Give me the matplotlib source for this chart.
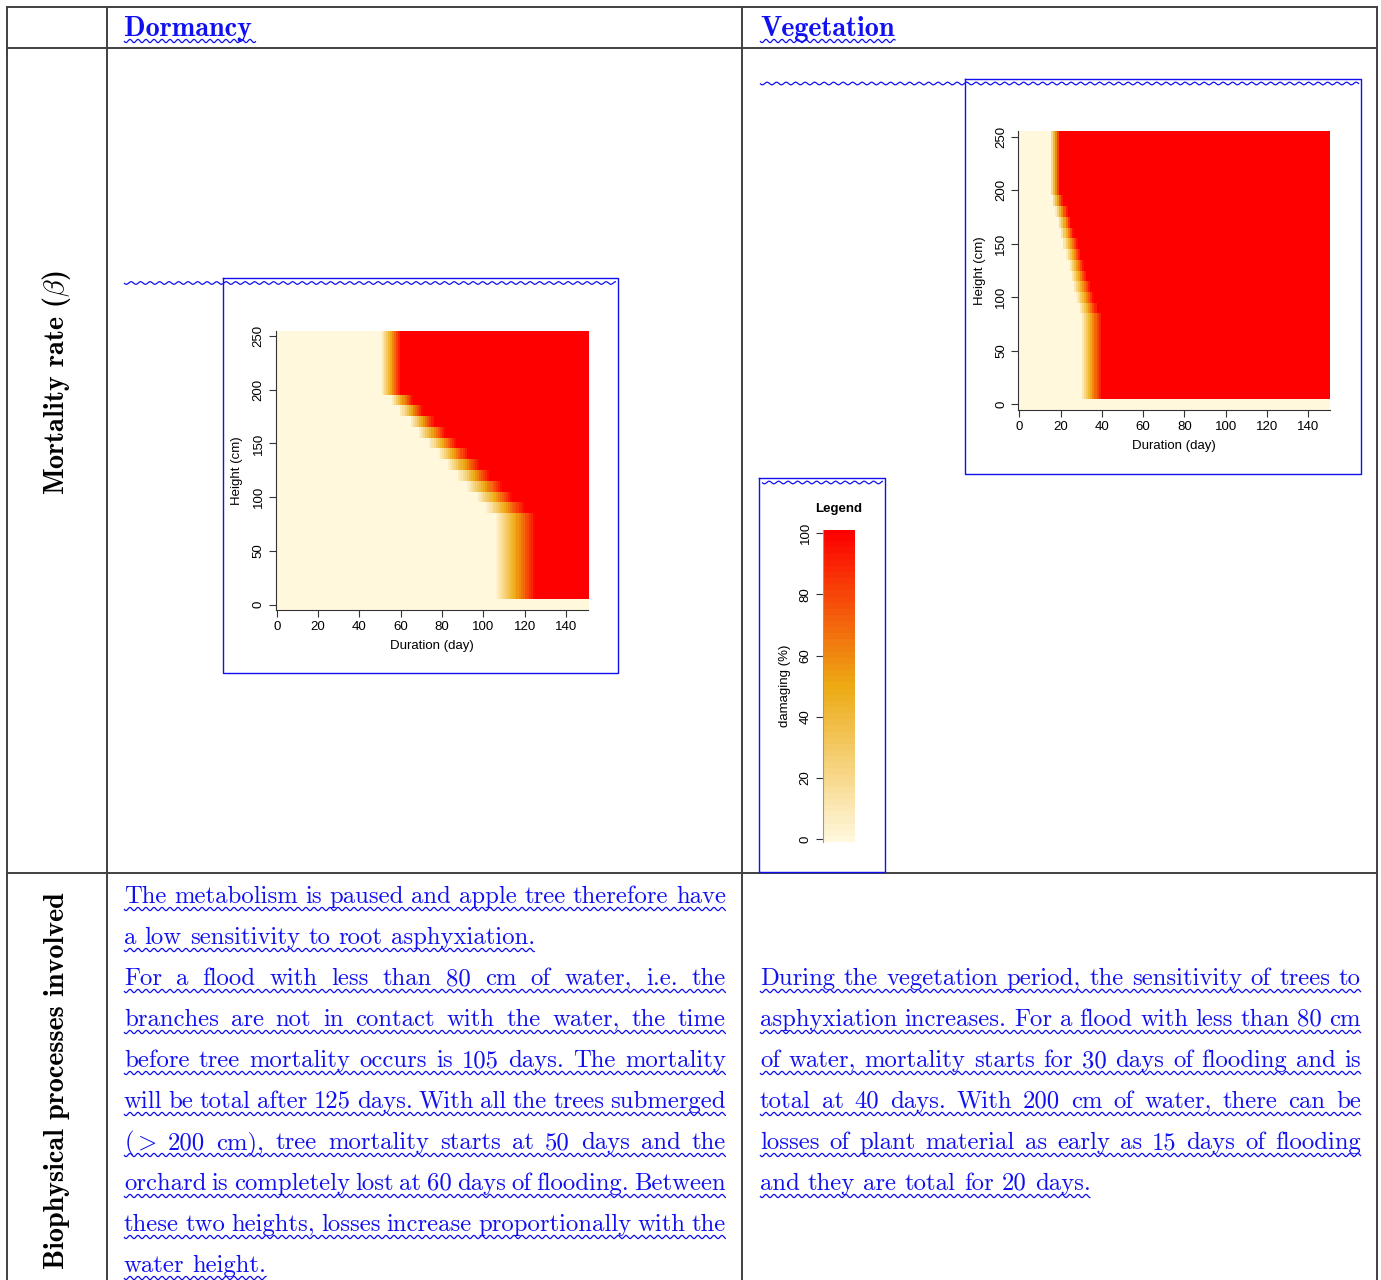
import numpy as np
import matplotlib.pyplot as plt
from matplotlib.colors import LinearSegmentedColormap

plt.rcParams['mathtext.fontset'] = 'cm'

W, H = 1381, 1280

# water height rows of the two maps (cm) and duration columns (day)
heights = [0, 10, 20, 30, 40, 50, 60, 70, 80, 90, 100, 110, 120, 130,
           140, 150, 160, 170, 180, 190, 200, 210, 220, 230, 240, 250]
days = np.arange(0, 151)

# day where losses start / become total, per height row
dorm_onset = [None, 105, 105, 105, 105, 105, 105, 105, 105, 100.5, 96, 91,
              87, 82, 77.5, 73, 68, 64, 59, 55, 50, 50, 50, 50, 50, 50]
dorm_total = [None, 125, 125, 125, 125, 125, 125, 125, 125, 119.5, 114, 109,
              103, 98, 92.5, 87, 81.5, 76, 70.5, 65.5, 60, 60, 60, 60, 60, 60]
veg_onset = [None, 30, 30, 30, 30, 30, 30, 30, 30, 29, 27.5, 26, 25, 24,
             22.5, 21, 20, 19, 17.5, 16, 15, 15, 15, 15, 15, 15]
veg_total = [None, 40, 40, 40, 40, 40, 40, 40, 40, 38, 36.5, 35, 33, 31.5,
             30, 28.5, 26.5, 25, 23.5, 21.5, 20, 20, 20, 20, 20, 20]

legend_levels = np.arange(0, 101, 2)
legend_ticks = [0, 20, 40, 60, 80, 100]
x_ticks = [0, 20, 40, 60, 80, 100, 120, 140]
y_ticks = [0, 50, 100, 150, 200, 250]

header_left = "Dormancy"
header_right = "Vegetation"
row_label_1 = r"Mortality rate ($\beta$)"
row_label_2 = "Biophysical processes involved"

# (line, justified?)
text_left = [
    ("The metabolism is paused and apple tree therefore have", True),
    ("a low sensitivity to root asphyxiation.", False),
    ("For a flood with less than 80 cm of water, i.e. the", True),
    ("branches are not in contact with the water, the time", True),
    ("before tree mortality occurs is 105 days. The mortality", True),
    ("will be total after 125 days. With all the trees submerged", True),
    (r"($>$ 200 cm), tree mortality starts at 50 days and the", True),
    ("orchard is completely lost at 60 days of flooding. Between", True),
    ("these two heights, losses increase proportionally with the", True),
    ("water height.", False),
]
text_right = [
    ("During the vegetation period, the sensitivity of trees to", True),
    ("asphyxiation increases. For a flood with less than 80 cm", True),
    ("of water, mortality starts for 30 days of flooding and is", True),
    ("total at 40 days. With 200 cm of water, there can be", True),
    ("losses of plant material as early as 15 days of flooding", True),
    ("and they are total for 20 days.", False),
]

cmap = LinearSegmentedColormap.from_list(
    "damage", ["#FFF8DC", "#EDAA14", "#FF0000"], N=51)
BLUE = "#1010F0"
SERIF = "cmr10"
SERIF_B = "cmb10"
SANS = "Liberation Sans"
FS = 17.8
FS_HEAD = 20.3


def damage_grid(onset, total):
    grid = np.zeros((len(heights), len(days)))
    for i, (o, t) in enumerate(zip(onset, total)):
        if o is None:
            continue
        grid[i] = np.clip((days - o) / (t - o), 0, 1) * 100
    return grid


fig = plt.figure(figsize=(W / 100, H / 100), dpi=100)
ax = fig.add_axes([0, 0, 1, 1])
ax.set_xlim(0, W)
ax.set_ylim(H, 0)
ax.axis("off")
renderer = fig.canvas.get_renderer()


def px_axes(x0, y0, x1, y1):
    return fig.add_axes([x0 / W, 1 - y1 / H, (x1 - x0) / W, (y1 - y0) / H])


def wavy(x0, x1, y, amp=1.6, period=8.0, lw=0.9):
    x = np.linspace(x0, x1, int((x1 - x0) * 2) + 2)
    ax.plot(x, y + amp * np.sin(2 * np.pi * (x - x0) / period),
            color=BLUE, lw=lw, solid_capstyle="butt")


def text_width(s, family=SERIF, size=FS):
    t = ax.text(0, 0, s, fontsize=size, family=family)
    w = t.get_window_extent(renderer).width
    t.remove()
    return w


space_w = text_width("a a") - 2 * text_width("a")


def paragraph(lines, x0, x1, y0, step=41):
    for k, (line, just) in enumerate(lines):
        y = y0 + k * step
        words = line.split(" ")
        widths = [text_width(w) for w in words]
        gap = (x1 - x0 - sum(widths)) / (len(words) - 1) if just else space_w
        x = x0
        for w, wd in zip(words, widths):
            ax.text(x, y, w, fontsize=FS, family=SERIF, color=BLUE,
                    ha="left", va="baseline")
            x += wd + gap
        wavy(x0, x1 if just else x - gap, y + 6)


# table grid
grid_kw = dict(color="#404040", lw=1.4)
for y in [7, 48, 873]:
    ax.plot([7, 1377], [y, y], **grid_kw)
for x in [7, 107, 742, 1377]:
    ax.plot([x, x], [7, H + 5], **grid_kw)

# headers
ax.text(124, 36, header_left, fontsize=FS_HEAD, family=SERIF_B, color=BLUE,
        va="baseline")
wavy(124, 124 + text_width(header_left, SERIF_B, FS_HEAD) + 4, 41)
ax.text(760, 36, header_right, fontsize=FS_HEAD, family=SERIF_B, color=BLUE,
        va="baseline")
wavy(760, 760 + text_width(header_right, SERIF_B, FS_HEAD) + 1, 41)

ax.text(57, 383, row_label_1, fontsize=FS_HEAD, family=SERIF_B, rotation=90,
        ha="center", va="center")
ax.text(57, 1081, row_label_2, fontsize=FS_HEAD, family=SERIF_B, rotation=90,
        ha="center", va="center")

# text cells
paragraph(text_left, 124, 726, 903)
paragraph(text_right, 760, 1361, 903 + 2 * 41)

# blue boxes round the inserted pictures
box_kw = dict(color=BLUE, lw=1.0)
for (x0, y0, x1, y1), wx0 in [((223, 278, 618, 673), 124),
                              ((965.5, 78.5, 1361, 474), 760),
                              ((759.5, 477.5, 885, 872), 762)]:
    ax.plot([x0, x1, x1, x0, x0], [y0, y0, y1, y1, y0], **box_kw)
    wavy(wx0, x1 - 2, y0 + 5, amp=1.3, period=9.5)


def heatmap(rect, grid, label_x, label_y):
    a = px_axes(*rect)
    a.imshow(grid, cmap=cmap, vmin=0, vmax=100, origin="lower",
             extent=(-0.5, 150.5, -5, 255), aspect="auto",
             interpolation="nearest")
    a.set_xlim(-0.5, 150.5)
    a.set_ylim(-5, 255)
    a.set_xticks(x_ticks)
    a.set_yticks(y_ticks)
    for s in ["top", "right"]:
        a.spines[s].set_visible(False)
    for s in ["bottom", "left"]:
        a.spines[s].set_color("#333333")
        a.spines[s].set_linewidth(0.8)
    a.tick_params(direction="out", length=5, width=0.8, labelsize=9.5,
                  pad=3, color="#333333")
    a.tick_params(axis="y", labelrotation=90)
    for lab in a.get_xticklabels() + a.get_yticklabels():
        lab.set_family(SANS)
    for lab in a.get_yticklabels():
        lab.set_va("center")
    x0, y0, x1, y1 = rect
    ax.text((x0 + x1) / 2, label_y, "Duration (day)", family=SANS,
            fontsize=9.5, ha="center", va="center")
    ax.text(label_x, (y0 + y1) / 2, "Height (cm)", family=SANS,
            fontsize=9.5, rotation=90, ha="center", va="center")


heatmap((275.7, 330.7, 587.7, 610), damage_grid(dorm_onset, dorm_total),
        237, 646)
heatmap((1018.3, 131.3, 1330, 409.7), damage_grid(veg_onset, veg_total),
        980, 446)

# legend colour bar
la = px_axes(822.7, 530, 854, 842.3)
la.imshow(legend_levels[:, None], cmap=cmap, vmin=0, vmax=100, origin="lower",
          extent=(0, 1, -1, 101), aspect="auto", interpolation="nearest")
la.set_ylim(-1, 101)
la.set_xlim(0, 1)
la.set_xticks([])
la.set_yticks(legend_ticks)
for s in ["top", "right", "bottom"]:
    la.spines[s].set_visible(False)
la.spines["left"].set_color("#999999")
la.spines["left"].set_linewidth(0.8)
la.tick_params(direction="out", length=5, width=0.8, labelsize=9.5, pad=3,
               color="#333333", labelrotation=90)
for lab in la.get_yticklabels():
    lab.set_family(SANS)
    lab.set_va("center")
ax.text(838.3, 509, "Legend", family=SANS, fontsize=9.5, fontweight="bold",
        ha="center", va="center")
ax.text(785, 686, "damaging (%)", family=SANS, fontsize=9.5, rotation=90,
        ha="center", va="center")

fig.savefig("out.png", dpi=100)
